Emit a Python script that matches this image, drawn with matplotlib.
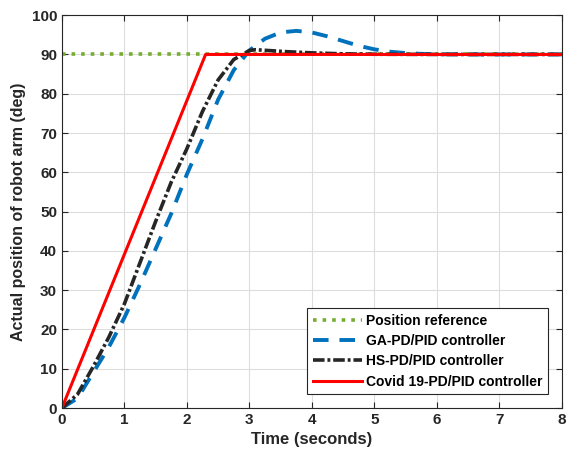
import matplotlib
matplotlib.use("Agg")
import matplotlib.pyplot as plt
import numpy as np

plt.rcParams['font.family'] = ['Liberation Sans', 'DejaVu Sans']

# Position reference
ref_t = [0, 8]
ref_y = [90, 90]

# GA-PD/PID controller
ga_t = [0, 0.25, 0.5, 0.75, 1.0, 1.25, 1.5, 1.75, 2.0, 2.25, 2.5, 2.75, 3.0, 3.25, 3.5,
        3.75, 4.0, 4.25, 4.5, 4.75, 5.0, 5.25, 5.5, 5.75, 6.0, 6.5, 8.0]
ga_y = [0, 2.5, 9, 15.5, 23, 31.5, 40.5, 49.5, 59.5, 68.5, 78.5, 86, 91, 94, 95.6,
        96, 95.6, 94.6, 93.4, 92.2, 91.3, 90.7, 90.35, 90.15, 90.05, 90, 90]

# HS-PD/PID controller
hs_t = [0, 0.25, 0.5, 0.75, 1.0, 1.25, 1.5, 1.75, 2.0, 2.25, 2.5, 2.75, 3.0, 3.1, 3.3,
        3.6, 4.0, 4.5, 5.0, 6.0, 8.0]
hs_y = [0, 3.5, 10.5, 18, 26.5, 37, 47.5, 57.5, 66, 75.5, 83.5, 88.7, 91, 91.2, 91.0,
        90.7, 90.4, 90.15, 90.05, 90, 90]

# Covid 19-PD/PID controller
cv_t = [0, 2.3, 8]
cv_y = [0, 90, 90]

fig = plt.figure(figsize=(5.68, 4.59), dpi=100)
ax = fig.add_axes([0.109, 0.111, 0.880, 0.856])

ax.plot(ref_t, ref_y, linestyle=':', color='#77AC30', lw=2.6, label='Position reference')
ax.plot(ga_t, ga_y, linestyle=(0, (4, 2.8)), color='#0072BD', lw=2.8, label='GA-PD/PID controller')
ax.plot(hs_t, hs_y, linestyle=(0, (3.2, 0.8, 0.8, 0.8)), color='#262626', lw=2.6, label='HS-PD/PID controller')
ax.plot(cv_t, cv_y, linestyle='-', color='#FF0000', lw=2.2, label='Covid 19-PD/PID controller')

ax.set_xlim(0, 8)
ax.set_ylim(0, 100)
ax.set_xticks(range(0, 9))
ax.set_yticks(range(0, 101, 10))
ax.grid(True, color='#DDDDDD', lw=0.8)
ax.tick_params(direction='in', top=True, right=True, labelsize=11, length=4, color='#262626')
for lab in ax.get_xticklabels() + ax.get_yticklabels():
    lab.set_fontweight('bold')
    lab.set_color('#262626')
for s in ax.spines.values():
    s.set_color('#262626')
    s.set_linewidth(0.8)

ax.set_xlabel('Time (seconds)', fontsize=12, fontweight='bold', color='#262626')
ax.set_ylabel('Actual position of robot arm (deg)', fontsize=11.5, fontweight='bold', color='#262626')

leg = ax.legend(loc='lower right', prop={'weight': 'bold', 'size': 10}, fancybox=False,
                edgecolor='#262626', framealpha=1, handlelength=3.5, borderaxespad=1.0,
                labelspacing=0.45, handletextpad=0.3, borderpad=0.4)
leg.get_frame().set_linewidth(0.8)

fig.savefig('out.png', dpi=100)
